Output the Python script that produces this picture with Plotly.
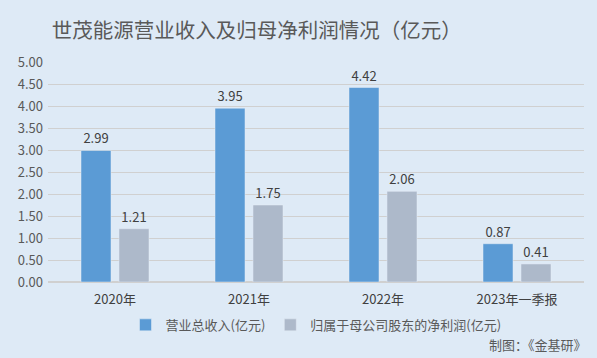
import plotly.graph_objects as go

categories = ["2020年", "2021年", "2022年", "2023年一季报"]
revenue = [2.99, 3.95, 4.42, 0.87]
net_profit = [1.21, 1.75, 2.06, 0.41]
series_names = ["营业总收入(亿元)", "归属于母公司股东的净利润(亿元)"]
tick_vals = [0, 0.5, 1, 1.5, 2, 2.5, 3, 3.5, 4, 4.5, 5]

FONT = "Noto Sans CJK SC"
fig = go.Figure()
fig.add_trace(go.Bar(x=categories, y=revenue, name=series_names[0], marker_color="#5B9BD5",
                     text=[f"{v:.2f}" for v in revenue], textposition="outside",
                     textfont=dict(size=13, color="#404040"), cliponaxis=False))
fig.add_trace(go.Bar(x=categories, y=net_profit, name=series_names[1], marker_color="#ADB9CA",
                     text=[f"{v:.2f}" for v in net_profit], textposition="outside",
                     textfont=dict(size=13, color="#404040"), cliponaxis=False))

fig.update_layout(
    width=597, height=358,
    paper_bgcolor="#DEEAF6", plot_bgcolor="#DEEAF6",
    font=dict(family=FONT, color="#595959", size=12),
    title=dict(text="世茂能源营业收入及归母净利润情况（亿元）", x=0.43, xanchor="center",
               y=0.915, yanchor="middle", font=dict(size=20.5, color="#595959", family=FONT)),
    margin=dict(l=48, r=13, t=62, b=76),
    barmode="group", bargap=0.433, bargroupgap=0.21,
    showlegend=True,
    legend=dict(orientation="h", x=0.5, xanchor="center", y=-0.195, yanchor="middle",
                font=dict(size=13, color="#595959"), itemwidth=30, traceorder="normal",
                bgcolor="rgba(0,0,0,0)"),
    xaxis=dict(showgrid=False, showline=False, ticks="", tickfont=dict(size=13, color="#404040"),
               ticklabelstandoff=8),
    yaxis=dict(range=[0, 5], tickvals=tick_vals, tickformat=".2f", showgrid=True,
               gridcolor="#D0D0D0", gridwidth=1, zeroline=True, zerolinecolor="#D0D0D0",
               tickfont=dict(size=13, color="#595959"), ticks="", ticklabelstandoff=4),
    annotations=[dict(text="制图：《金基研》", xref="paper", yref="paper", x=1.01, y=-0.285,
                      xanchor="right", yanchor="middle", showarrow=False,
                      font=dict(size=13, color="#595959"))],
)
fig.write_html("out.html", config={"displayModeBar": False},
               post_script="document.body.style.margin='0';")
